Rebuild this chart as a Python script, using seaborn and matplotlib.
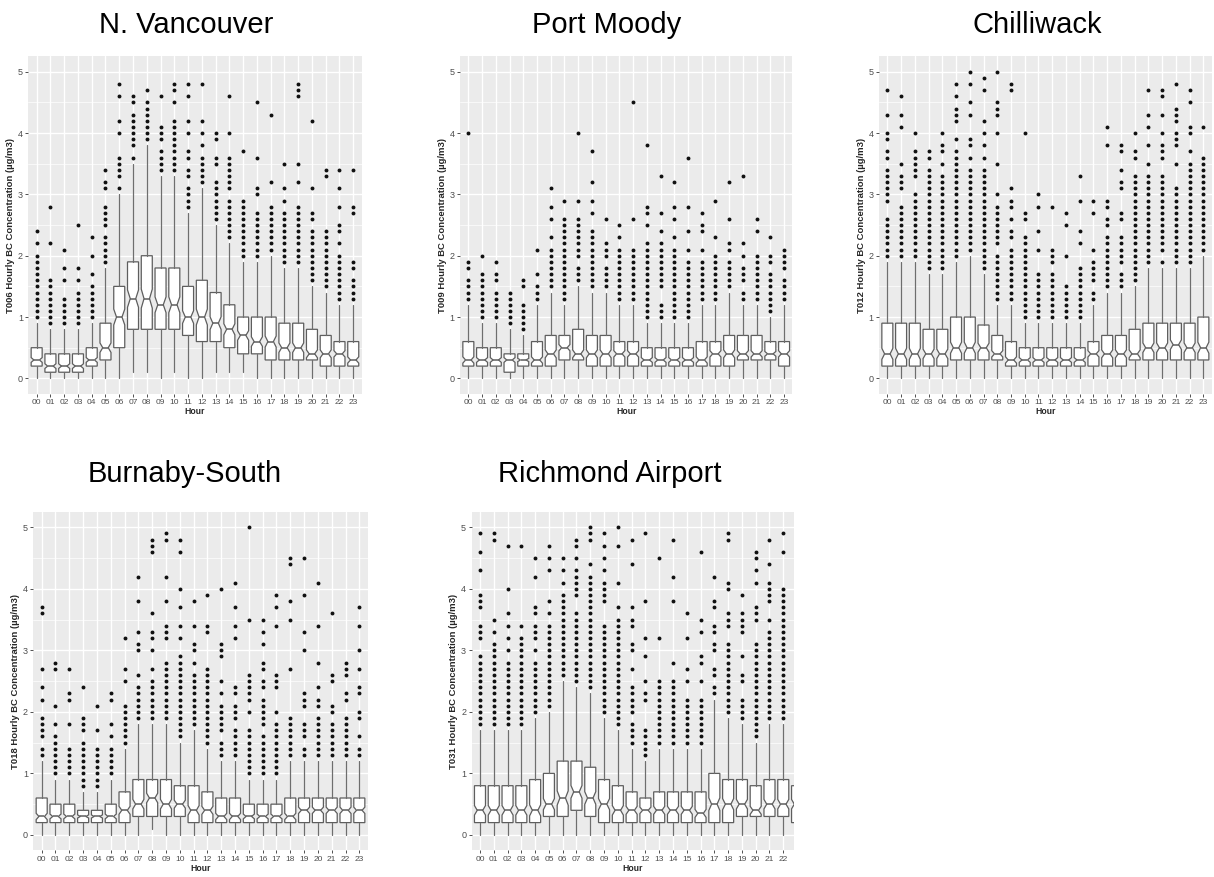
import numpy as np
import matplotlib
matplotlib.use("Agg")
import matplotlib.pyplot as plt
from matplotlib.ticker import MultipleLocator
import seaborn as sns

# hour labels shared by every panel
hours = ["00", "01", "02", "03", "04", "05", "06", "07", "08", "09", "10", "11",
         "12", "13", "14", "15", "16", "17", "18", "19", "20", "21", "22", "23"]

# ---- N. Vancouver (T006) ----
nv_q1 = [0.2, 0.1, 0.1, 0.1, 0.2, 0.3, 0.5, 0.8, 0.8, 0.8, 0.8, 0.7, 0.6, 0.6, 0.5, 0.4, 0.4, 0.3, 0.3, 0.3, 0.3, 0.2, 0.2, 0.2]
nv_med = [0.3, 0.2, 0.2, 0.2, 0.3, 0.5, 1.0, 1.3, 1.3, 1.2, 1.2, 1.0, 1.0, 0.9, 0.8, 0.7, 0.6, 0.6, 0.5, 0.5, 0.4, 0.4, 0.4, 0.3]
nv_q3 = [0.5, 0.4, 0.4, 0.4, 0.5, 0.9, 1.5, 1.9, 2.0, 1.8, 1.8, 1.5, 1.6, 1.4, 1.2, 1.0, 1.0, 1.0, 0.9, 0.9, 0.8, 0.7, 0.6, 0.6]
nv_lo = [0.0, 0.0, 0.0, 0.0, 0.0, 0.0, 0.0, 0.1, 0.1, 0.0, 0.1, 0.0, 0.0, 0.1, 0.1, 0.1, 0.0, 0.0, 0.0, 0.0, 0.0, 0.0, 0.0, 0.0]
nv_hi = [0.9, 0.8, 0.8, 0.8, 0.9, 1.8, 3.0, 3.5, 3.8, 3.3, 3.3, 2.7, 3.1, 2.5, 2.2, 1.9, 1.9, 2.0, 1.8, 1.8, 1.5, 1.4, 1.2, 1.2]
nv_out = [
    "1.0 1.1 1.2 1.3 1.4 1.5 1.6 1.7 1.8 1.9 2.0 2.2 2.4",
    "0.9 1.0 1.1 1.2 1.3 1.4 1.5 1.6 2.2 2.8",
    "0.9 1.0 1.1 1.2 1.3 1.6 1.8 2.1",
    "0.9 1.0 1.1 1.2 1.3 1.4 1.6 1.8 2.5",
    "1.0 1.1 1.2 1.3 1.4 1.5 1.7 2.0 2.3",
    "1.9 2.0 2.1 2.2 2.3 2.5 2.6 2.7 2.8 3.1 3.2 3.4",
    "3.1 3.3 3.4 3.5 3.6 4.0 4.2 4.6 4.8",
    "3.6 3.8 3.9 4.0 4.1 4.2 4.3 4.5 4.6",
    "3.9 4.0 4.1 4.2 4.3 4.4 4.5 4.7",
    "3.4 3.5 3.6 3.7 3.9 4.0 4.1 4.6",
    "3.4 3.5 3.6 3.7 3.8 3.9 4.0 4.1 4.2 4.5 4.7 4.8",
    "2.8 2.9 3.0 3.1 3.3 3.4 3.6 3.7 4.0 4.2 4.6 4.8",
    "3.2 3.3 3.4 3.5 3.6 3.8 4.0 4.2 4.8",
    "2.6 2.7 2.8 2.9 3.0 3.1 3.2 3.5 3.6 3.9 4.0",
    "2.3 2.4 2.5 2.6 2.7 2.8 2.9 3.1 3.2 3.3 3.4 3.5 3.6 4.0 4.6",
    "2.0 2.1 2.2 2.3 2.4 2.5 2.6 2.7 2.8 2.9 3.7",
    "2.0 2.1 2.2 2.3 2.4 2.5 2.6 2.7 3.0 3.1 3.6 4.5",
    "2.1 2.2 2.3 2.4 2.5 2.6 2.7 2.8 3.2 4.3",
    "1.9 2.0 2.1 2.2 2.3 2.4 2.5 2.6 2.7 2.9 3.1 3.5",
    "1.9 2.0 2.1 2.2 2.3 2.4 2.5 2.6 2.7 2.8 3.2 3.5 4.6 4.7 4.8",
    "1.6 1.7 1.8 1.9 2.0 2.1 2.2 2.3 2.4 2.6 2.7 3.1 4.2",
    "1.5 1.6 1.7 1.8 1.9 2.0 2.1 2.2 2.3 2.4 3.3 3.4",
    "1.3 1.4 1.5 1.6 1.7 1.8 1.9 2.0 2.2 2.4 2.5 2.8 3.1 3.4",
    "1.3 1.4 1.5 1.6 1.8 1.9 2.7 2.8 3.4",
]

# ---- Port Moody (T009) ----
pm_q1 = [0.2, 0.2, 0.2, 0.1, 0.2, 0.2, 0.2, 0.3, 0.3, 0.2, 0.2, 0.2, 0.2, 0.2, 0.2, 0.2, 0.2, 0.2, 0.2, 0.2, 0.3, 0.3, 0.3, 0.2]
pm_med = [0.3, 0.3, 0.3, 0.3, 0.3, 0.3, 0.4, 0.5, 0.4, 0.4, 0.4, 0.4, 0.4, 0.3, 0.3, 0.3, 0.3, 0.3, 0.4, 0.4, 0.4, 0.4, 0.4, 0.4]
pm_q3 = [0.6, 0.5, 0.5, 0.4, 0.4, 0.6, 0.7, 0.7, 0.8, 0.7, 0.7, 0.6, 0.6, 0.5, 0.5, 0.5, 0.5, 0.6, 0.6, 0.7, 0.7, 0.7, 0.6, 0.6]
pm_lo = [0.0] * 24
pm_hi = [1.2, 0.9, 0.9, 0.8, 0.7, 1.2, 1.4, 1.2, 1.5, 1.4, 1.4, 1.2, 1.2, 0.9, 0.9, 0.9, 0.9, 1.2, 1.2, 1.4, 1.2, 1.2, 1.0, 1.2]
pm_out = [
    "1.3 1.4 1.5 1.6 1.8 1.9 4.0",
    "1.0 1.1 1.2 1.3 1.4 1.5 1.6 1.7 2.0",
    "1.0 1.1 1.2 1.3 1.4 1.6 1.7 1.9",
    "0.9 1.0 1.1 1.2 1.3 1.4",
    "0.8 0.9 1.0 1.1 1.2 1.5 1.6",
    "1.3 1.4 1.5 1.7 2.1",
    "1.5 1.6 1.7 1.8 1.9 2.0 2.1 2.3 2.6 2.8 3.1",
    "1.3 1.4 1.5 1.6 1.7 1.8 1.9 2.0 2.1 2.2 2.3 2.4 2.5 2.6 2.9",
    "1.6 1.7 1.8 2.0 2.1 2.2 2.3 2.4 2.5 2.6 2.9 4.0",
    "1.5 1.6 1.7 1.8 1.9 2.0 2.1 2.2 2.3 2.4 2.7 2.9 3.2 3.7",
    "1.5 1.6 1.7 1.8 2.0 2.1 2.2 2.6",
    "1.3 1.4 1.5 1.6 1.7 1.8 1.9 2.0 2.1 2.3 2.5",
    "1.3 1.4 1.5 1.6 1.7 1.8 1.9 2.0 2.1 2.6 4.5",
    "1.0 1.1 1.2 1.3 1.4 1.5 1.6 1.7 1.8 1.9 2.0 2.1 2.2 2.5 2.7 2.8 3.8",
    "1.0 1.1 1.2 1.5 1.6 1.7 1.8 1.9 2.0 2.1 2.2 2.4 2.7 3.3",
    "1.0 1.1 1.2 1.3 1.4 1.5 1.6 1.7 1.8 1.9 2.0 2.1 2.3 2.6 2.8 3.2",
    "1.0 1.1 1.2 1.3 1.4 1.5 1.6 1.7 1.8 1.9 2.1 2.4 2.8 3.6",
    "1.3 1.4 1.5 1.6 1.7 1.8 1.9 2.1 2.4 2.5 2.7",
    "1.3 1.4 1.5 1.6 1.7 1.8 1.9 2.0 2.3 2.9",
    "1.5 1.6 1.7 1.8 1.9 2.1 2.2 2.6 3.2",
    "1.3 1.4 1.6 1.7 1.8 2.0 2.2 3.3",
    "1.3 1.4 1.5 1.6 1.7 1.8 1.9 2.0 2.4 2.6",
    "1.1 1.2 1.3 1.4 1.5 1.6 1.7 1.9 2.0 2.3",
    "1.3 1.4 1.5 1.6 1.8 1.9 2.0 2.1",
]

# ---- Chilliwack (T012) ----
ch_q1 = [0.2, 0.2, 0.2, 0.2, 0.2, 0.3, 0.3, 0.3, 0.3, 0.2, 0.2, 0.2, 0.2, 0.2, 0.2, 0.2, 0.2, 0.2, 0.3, 0.3, 0.3, 0.3, 0.3, 0.3]
ch_med = [0.4, 0.4, 0.4, 0.4, 0.4, 0.5, 0.5, 0.5, 0.4, 0.3, 0.3, 0.3, 0.3, 0.3, 0.3, 0.4, 0.4, 0.4, 0.4, 0.5, 0.5, 0.55, 0.5, 0.5]
ch_q3 = [0.9, 0.9, 0.9, 0.8, 0.8, 1.0, 1.0, 0.87, 0.7, 0.6, 0.5, 0.5, 0.5, 0.5, 0.5, 0.6, 0.7, 0.7, 0.8, 0.9, 0.9, 0.9, 0.9, 1.0]
ch_lo = [0.0] * 24
ch_hi = [1.9, 1.9, 1.9, 1.7, 1.7, 1.9, 2.0, 1.7, 1.2, 1.2, 0.9, 0.9, 0.9, 0.9, 0.9, 1.2, 1.4, 1.4, 1.5, 1.8, 1.8, 1.8, 1.8, 2.0]
ch_out = [
    "2.0 2.1 2.2 2.3 2.4 2.5 2.6 2.9 3.0 3.1 3.2 3.3 3.4 3.6 3.7 3.9 4.0 4.3 4.7",
    "2.0 2.1 2.2 2.3 2.4 2.5 2.6 2.7 2.8 3.1 3.2 3.3 3.5 4.1 4.3 4.6",
    "2.0 2.1 2.2 2.3 2.4 2.5 2.6 2.7 2.8 2.9 3.0 3.3 3.4 3.5 3.6 3.7 4.0",
    "1.8 1.9 2.0 2.1 2.2 2.3 2.4 2.5 2.6 2.7 2.8 2.9 3.0 3.1 3.2 3.3 3.4 3.6 3.7",
    "1.8 1.9 2.0 2.1 2.2 2.3 2.4 2.5 2.6 2.7 2.8 2.9 3.0 3.1 3.2 3.3 3.5 3.7 3.8 4.0",
    "2.0 2.1 2.2 2.3 2.4 2.5 2.6 2.7 2.8 2.9 3.0 3.1 3.2 3.3 3.4 3.5 3.6 3.7 3.9 4.2 4.3 4.4 4.6 4.8",
    "2.1 2.2 2.3 2.4 2.5 2.6 2.7 2.8 2.9 3.0 3.1 3.2 3.3 3.4 3.6 3.8 3.9 4.3 4.5 4.8 5.0",
    "1.8 1.9 2.0 2.1 2.2 2.3 2.4 2.5 2.6 2.7 2.8 2.9 3.0 3.1 3.2 3.3 3.4 3.6 3.8 4.0 4.2 4.7 4.9",
    "1.3 1.4 1.5 1.6 1.7 1.8 1.9 2.0 2.2 2.3 2.4 2.5 2.6 2.7 2.8 3.0 3.5 4.0 4.3 4.4 4.5 5.0",
    "1.3 1.4 1.5 1.6 1.7 1.8 1.9 2.0 2.1 2.3 2.4 2.6 2.8 2.9 3.1 4.7 4.8",
    "1.0 1.1 1.2 1.3 1.4 1.5 1.6 1.7 1.8 1.9 2.0 2.1 2.2 2.3 2.6 2.7 4.0",
    "1.0 1.1 1.2 1.3 1.4 1.5 1.6 1.7 2.1 2.4 2.8 3.0",
    "1.0 1.1 1.2 1.3 1.4 1.5 1.6 1.7 1.9 2.0 2.1 2.8",
    "1.0 1.1 1.2 1.3 1.4 1.5 2.0 2.5 2.7",
    "1.0 1.1 1.2 1.3 1.4 1.5 1.6 1.7 1.8 2.2 2.4 2.9 3.3",
    "1.3 1.4 1.6 1.7 1.8 1.9 2.1 2.7 2.9",
    "1.5 1.6 1.7 1.8 1.9 2.0 2.1 2.2 2.3 2.5 2.6 2.8 2.9 3.8 4.1",
    "1.5 1.6 1.7 1.9 2.0 2.1 2.2 2.3 2.6 2.7 3.1 3.2 3.4 3.7 3.8",
    "1.6 1.7 1.8 1.9 2.0 2.1 2.2 2.3 2.4 2.5 2.6 2.7 2.8 2.9 3.0 3.1 3.2 3.3 3.6 3.7 4.0",
    "1.9 2.0 2.1 2.2 2.3 2.4 2.5 2.6 2.7 2.8 2.9 3.0 3.1 3.2 3.3 3.5 3.8 4.1 4.3 4.7",
    "1.9 2.1 2.2 2.3 2.4 2.5 2.6 2.7 2.8 2.9 3.0 3.1 3.2 3.3 3.6 3.7 3.8 4.0 4.3 4.6 4.7",
    "1.9 2.0 2.1 2.2 2.3 2.4 2.5 2.6 2.7 2.8 2.9 3.0 3.1 3.5 3.8 3.9 4.0 4.2 4.3 4.4 4.8",
    "1.9 2.0 2.1 2.2 2.3 2.4 2.5 2.6 2.7 2.8 2.9 3.0 3.1 3.2 3.3 3.4 3.5 3.7 4.0 4.1 4.5 4.7",
    "2.1 2.2 2.3 2.4 2.5 2.6 2.7 2.8 2.9 3.0 3.1 3.2 3.3 3.4 3.5 3.6 4.1",
]

# ---- Burnaby-South (T018) ----
bs_q1 = [0.2, 0.2, 0.2, 0.2, 0.2, 0.2, 0.2, 0.3, 0.3, 0.3, 0.3, 0.2, 0.2, 0.2, 0.2, 0.2, 0.2, 0.2, 0.2, 0.2, 0.2, 0.2, 0.2, 0.2]
bs_med = [0.3, 0.3, 0.3, 0.3, 0.3, 0.3, 0.4, 0.5, 0.6, 0.5, 0.5, 0.4, 0.4, 0.3, 0.3, 0.3, 0.3, 0.3, 0.3, 0.4, 0.4, 0.4, 0.4, 0.4]
bs_q3 = [0.6, 0.5, 0.5, 0.4, 0.4, 0.5, 0.7, 0.9, 0.9, 0.9, 0.8, 0.8, 0.7, 0.6, 0.6, 0.5, 0.5, 0.5, 0.6, 0.6, 0.6, 0.6, 0.6, 0.6]
bs_lo = [0.0, 0.0, 0.0, 0.0, 0.0, 0.0, 0.0, 0.0, 0.1, 0.0, 0.0, 0.0, 0.0, 0.0, 0.0, 0.0, 0.0, 0.0, 0.0, 0.0, 0.0, 0.0, 0.0, 0.0]
bs_hi = [1.2, 0.9, 0.9, 0.7, 0.7, 0.9, 1.4, 1.8, 1.8, 1.8, 1.5, 1.7, 1.4, 1.2, 1.2, 0.9, 0.9, 0.9, 1.2, 1.2, 1.2, 1.2, 1.2, 1.2]
bs_out = [
    "1.3 1.4 1.6 1.7 1.8 1.9 2.2 2.4 2.7 3.6 3.7",
    "1.0 1.1 1.2 1.3 1.4 1.5 1.6 1.8 2.1 2.7 2.8",
    "1.0 1.1 1.2 1.3 1.4 1.8 2.2 2.3 2.7",
    "0.8 0.9 1.0 1.1 1.2 1.3 1.4 1.5 1.7 1.8 1.9 2.4",
    "0.8 0.9 1.0 1.1 1.2 1.3 1.4 1.7 2.1",
    "1.0 1.1 1.2 1.3 1.4 1.6 1.8 2.2 2.3",
    "1.5 1.6 1.7 1.8 1.9 2.0 2.1 2.5 2.7 3.2",
    "1.9 2.0 2.1 2.2 2.3 2.4 2.6 3.0 3.1 3.3 3.8 4.2",
    "1.9 2.0 2.1 2.2 2.3 2.4 2.5 2.7 3.0 3.2 3.3 3.6 4.6 4.7 4.8",
    "1.9 2.0 2.1 2.2 2.3 2.4 2.5 2.6 2.7 2.8 3.2 3.3 3.4 3.8 4.2 4.8 4.9",
    "1.6 1.7 1.8 1.9 2.0 2.1 2.2 2.3 2.4 2.5 2.6 2.7 2.8 2.9 3.2 3.4 3.7 4.0 4.6 4.8",
    "1.8 1.9 2.0 2.1 2.2 2.3 2.4 2.5 2.6 2.8 3.0 3.1 3.4 3.8",
    "1.5 1.6 1.7 1.8 1.9 2.0 2.1 2.2 2.3 2.4 2.5 2.6 2.7 3.3 3.4 3.9",
    "1.3 1.4 1.5 1.7 1.8 1.9 2.0 2.1 2.3 2.5 2.9 3.0 3.1 4.0",
    "1.3 1.4 1.5 1.6 1.7 1.9 2.0 2.1 2.3 2.4 3.2 3.4 3.7 4.1",
    "1.0 1.1 1.2 1.3 1.4 1.5 1.6 1.7 2.0 2.2 2.3 2.4 2.5 2.6 3.5 5.0",
    "1.0 1.1 1.2 1.3 1.4 1.5 1.6 1.8 1.9 2.0 2.1 2.2 2.4 2.5 2.7 2.8 3.1 3.3 3.5",
    "1.0 1.1 1.2 1.3 1.4 1.5 1.6 1.7 1.8 2.0 2.4 2.5 2.6 3.4 3.7 3.9",
    "1.3 1.4 1.5 1.6 1.7 1.8 1.9 2.7 3.5 3.8 4.4 4.5",
    "1.3 1.4 1.6 1.7 1.8 2.1 2.2 2.3 3.0 3.3 3.9 4.5",
    "1.3 1.4 1.5 1.6 1.7 1.8 1.9 2.1 2.2 2.4 2.8 3.4 4.1",
    "1.3 1.4 1.5 1.6 1.7 1.8 2.0 2.1 2.5 2.6 3.6",
    "1.3 1.4 1.5 1.6 1.7 1.8 1.9 2.2 2.3 2.6 2.7 2.8",
    "1.3 1.4 1.6 1.9 2.0 2.3 2.4 2.7 3.0 3.4 3.7",
]

# ---- Richmond Airport (T031), hour 23 is cut off by the panel edge ----
ra_q1 = [0.2, 0.2, 0.2, 0.2, 0.2, 0.3, 0.3, 0.4, 0.3, 0.2, 0.2, 0.2, 0.2, 0.2, 0.2, 0.2, 0.2, 0.2, 0.2, 0.3, 0.3, 0.3, 0.3, 0.2]
ra_med = [0.4, 0.4, 0.4, 0.4, 0.4, 0.5, 0.6, 0.7, 0.6, 0.5, 0.4, 0.4, 0.4, 0.4, 0.4, 0.4, 0.35, 0.5, 0.5, 0.5, 0.4, 0.5, 0.5, 0.5]
ra_q3 = [0.8, 0.8, 0.8, 0.8, 0.9, 1.0, 1.2, 1.2, 1.1, 0.9, 0.8, 0.7, 0.6, 0.7, 0.7, 0.7, 0.7, 1.0, 0.9, 0.9, 0.8, 0.9, 0.9, 0.8]
ra_lo = [0.0] * 24
ra_hi = [1.7, 1.7, 1.7, 1.7, 1.9, 2.0, 2.5, 2.4, 2.3, 1.9, 1.7, 1.4, 1.2, 1.4, 1.4, 1.4, 1.4, 2.2, 1.9, 1.8, 1.5, 1.8, 1.8, 1.7]
ra_out = [
    "1.8 1.9 2.0 2.1 2.2 2.3 2.4 2.5 2.6 2.7 2.8 2.9 3.2 3.3 3.4 3.7 3.8 3.9 4.3 4.6 4.9",
    "1.8 1.9 2.0 2.1 2.2 2.3 2.4 2.5 2.6 2.7 2.8 2.9 3.0 3.1 3.3 3.5 4.8 4.9",
    "1.8 1.9 2.0 2.1 2.2 2.3 2.4 2.5 2.6 2.7 2.8 3.0 3.2 3.4 3.6 4.0 4.7",
    "1.8 1.9 2.0 2.1 2.2 2.3 2.4 2.5 2.6 2.7 2.8 2.9 3.0 3.1 3.2 3.4 4.7",
    "2.0 2.1 2.2 2.3 2.4 2.5 2.6 2.7 2.8 3.0 3.2 3.3 3.4 3.6 3.7 4.2 4.5",
    "2.1 2.2 2.3 2.4 2.5 2.6 2.7 2.8 2.9 3.0 3.1 3.2 3.3 3.4 3.6 3.8 4.3 4.5 4.7",
    "2.6 2.7 2.8 2.9 3.0 3.1 3.2 3.3 3.4 3.5 3.6 3.7 3.8 3.9 4.1 4.3 4.5",
    "2.5 2.6 2.7 2.8 2.9 3.0 3.1 3.2 3.3 3.4 3.5 3.6 3.9 4.0 4.1 4.2 4.3 4.5 4.7 4.8",
    "2.4 2.5 2.6 2.7 2.8 2.9 3.0 3.1 3.2 3.3 3.4 3.5 3.6 3.7 3.8 3.9 4.0 4.1 4.2 4.4 4.8 4.9 5.0",
    "2.0 2.1 2.2 2.3 2.4 2.5 2.6 2.7 2.8 2.9 3.0 3.1 3.2 3.3 3.4 3.8 3.9 4.0 4.1 4.3 4.5 4.7 4.9",
    "1.8 1.9 2.0 2.1 2.2 2.3 2.4 2.5 2.6 2.7 2.8 2.9 3.0 3.1 3.2 3.3 3.4 3.5 3.7 4.1 4.7 5.0",
    "1.5 1.6 1.7 1.8 2.0 2.1 2.2 2.3 2.4 2.7 3.0 3.1 3.4 3.5 3.7 4.4 4.8",
    "1.3 1.4 1.5 1.6 1.7 2.2 2.3 2.5 2.9 3.2 3.8 4.9",
    "1.5 1.6 1.7 1.8 1.9 2.0 2.1 2.2 2.3 2.4 2.5 3.2 4.5",
    "1.5 1.6 1.7 1.8 1.9 2.0 2.1 2.2 2.3 2.4 2.5 2.8 3.8 4.2 4.8",
    "1.5 1.6 1.7 1.8 1.9 2.0 2.1 2.2 2.5 2.7 3.2 3.6",
    "1.5 1.6 1.7 1.8 1.9 2.0 2.1 2.2 2.5 2.8 2.9 3.3 3.5 4.6",
    "2.3 2.4 2.6 2.7 3.0 3.1 3.3 3.4 3.7 3.8 4.2",
    "2.0 2.1 2.2 2.3 2.4 2.5 2.6 2.7 2.8 2.9 3.0 3.1 3.4 3.5 3.6 4.0 4.1 4.8 4.9",
    "1.9 2.0 2.1 2.2 2.5 2.6 2.9 3.3 3.4 3.5 3.6 3.9",
    "1.6 1.7 1.8 1.9 2.0 2.1 2.2 2.3 2.4 2.5 2.6 2.7 2.8 2.9 3.0 3.1 3.5 3.6 3.7 4.1 4.3 4.5 4.6",
    "1.9 2.0 2.1 2.2 2.3 2.4 2.5 2.6 2.7 2.8 2.9 3.0 3.1 3.2 3.3 3.5 3.8 3.9 4.0 4.1 4.4 4.8",
    "1.9 2.0 2.1 2.2 2.3 2.4 2.5 2.6 2.7 2.8 2.9 3.0 3.1 3.2 3.3 3.4 3.5 3.6 3.7 3.8 3.9 4.0 4.6 4.9",
    "",
]

# approx. number of days behind each hourly box (only used for the notch size)
N_OBS = 150

W, H = 1214, 877

sns.set_theme(style="darkgrid", rc={
    "axes.facecolor": "#EBEBEB",
    "grid.color": "white",
    "axes.axisbelow": True,
})
plt.rcParams["font.family"] = ["Liberation Sans", "DejaVu Sans"]


def make_stats(q1, med, q3, lo, hi, out):
    stats = []
    for i in range(len(q1)):
        half = 1.58 * (q3[i] - q1[i]) / np.sqrt(N_OBS)
        stats.append({
            "q1": q1[i], "med": med[i], "q3": q3[i],
            "whislo": lo[i], "whishi": hi[i],
            "cilo": med[i] - half, "cihi": med[i] + half,
            "fliers": [float(v) for v in out[i].split()],
        })
    return stats


def draw_panel(rect, stats, code, n_labels, xmax):
    # rect given in pixels: left, top, width, height
    left, top, width, height = rect
    ax = fig.add_axes([left / W, 1 - (top + height) / H, width / W, height / H])
    ax.bxp(stats, positions=list(range(len(stats))), widths=0.8,
           shownotches=True, showcaps=False, patch_artist=True,
           boxprops=dict(facecolor="white", edgecolor="#5e5e5e", linewidth=0.9),
           whiskerprops=dict(color="#6e6e6e", linewidth=0.9),
           medianprops=dict(color="#5e5e5e", linewidth=1.1),
           flierprops=dict(marker="o", markerfacecolor="#111111", markeredgecolor="#111111",
                           markersize=1.8, linestyle="none"))
    ax.set_xlim(-0.6, xmax)
    ax.set_ylim(-0.25, 5.25)
    ax.set_xticks(range(n_labels))
    ax.set_xticklabels(hours[:n_labels])
    ax.set_yticks([0, 1, 2, 3, 4, 5])
    ax.yaxis.set_minor_locator(MultipleLocator(0.5))
    ax.grid(which="major", color="white", linewidth=1.0)
    ax.grid(which="minor", axis="y", color="white", linewidth=0.5)
    ax.tick_params(which="major", length=2.5, width=0.6, color="#333333",
                   bottom=True, left=True, pad=1.5, labelcolor="#4D4D4D")
    ax.tick_params(axis="x", labelsize=6)
    ax.tick_params(axis="y", labelsize=6.5)
    ax.tick_params(which="minor", length=0)
    ax.set_xlabel("Hour", fontsize=6.2, fontweight="bold", labelpad=0.5)
    ax.set_ylabel(f"{code} Hourly BC Concentration (µg/m3)", fontsize=6.8,
                  fontweight="bold", labelpad=2)
    sns.despine(ax=ax, left=True, bottom=True)
    return ax


fig = plt.figure(figsize=(W / 100, H / 100), dpi=100)

draw_panel((28.4, 56.4, 333.1, 337.3), make_stats(nv_q1, nv_med, nv_q3, nv_lo, nv_hi, nv_out), "T006", 24, 23.6)
draw_panel((460.1, 56.4, 332.2, 337.3), make_stats(pm_q1, pm_med, pm_q3, pm_lo, pm_hi, pm_out), "T009", 24, 23.6)
draw_panel((879.1, 56.4, 332.5, 337.3), make_stats(ch_q1, ch_med, ch_q3, ch_lo, ch_hi, ch_out), "T012", 24, 23.6)
draw_panel((33.4, 511.9, 334.2, 338.4), make_stats(bs_q1, bs_med, bs_q3, bs_lo, bs_hi, bs_out), "T018", 24, 23.6)
draw_panel((471.7, 511.9, 322.6, 338.4), make_stats(ra_q1, ra_med, ra_q3, ra_lo, ra_hi, ra_out), "T031", 23, 22.8)

titles = ["N. Vancouver", "Port Moody", "Chilliwack", "Burnaby-South", "Richmond Airport"]
title_xy = [(186, 25), (607, 25), (1037, 25), (185, 474), (610, 474)]
for t, (x, y) in zip(titles, title_xy):
    fig.text(x / W, 1 - y / H, t, ha="center", va="center", fontsize=21, color="black")

fig.savefig("out.png", dpi=100, facecolor="white")
